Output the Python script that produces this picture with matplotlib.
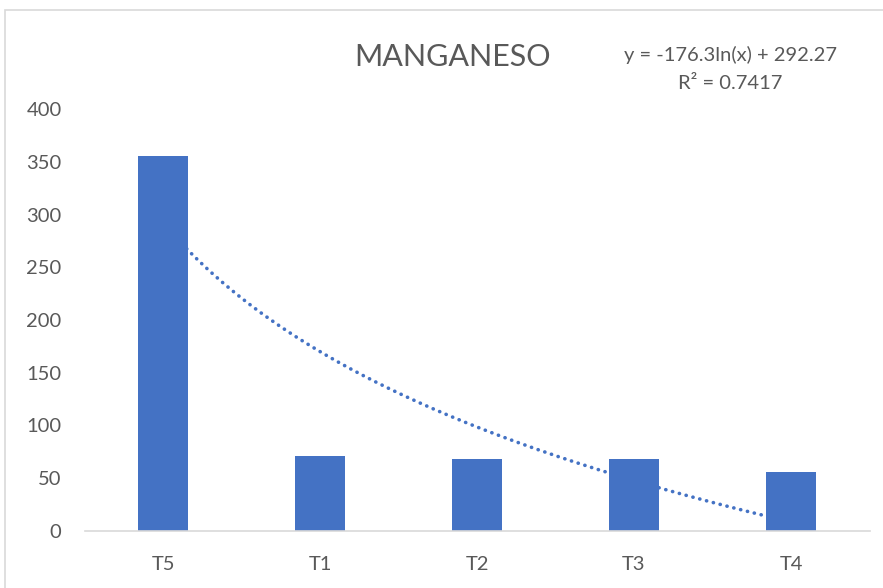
import numpy as np
import matplotlib.pyplot as plt
from matplotlib.patches import Rectangle

# Data
categories = ['T5', 'T1', 'T2', 'T3', 'T4']
values = [355, 71, 68, 68, 56]
yticks = [0, 50, 100, 150, 200, 250, 300, 350, 400]

# Logarithmic trendline coefficients (as shown on the chart)
trend_a = -176.3
trend_b = 292.27
trend_r2 = 0.7417

plt.rcParams['font.family'] = ['Lato', 'DejaVu Sans']

fig = plt.figure(figsize=(8.83, 5.88), dpi=100)
ax = fig.add_axes([84.5 / 883, 57 / 588, 785 / 883, 422 / 588])

x = np.arange(1, len(categories) + 1)

# trendline (behind bars)
xt = np.linspace(1, len(categories), 200)
yt = trend_a * np.log(xt) + trend_b
ax.plot(xt, yt, color='#4472C4', lw=2.6, linestyle=(0, (0.05, 1.9)),
        dash_capstyle='round', zorder=1)

ax.bar(x, values, width=0.32, color='#4472C4', zorder=2)

ax.set_xlim(0.5, len(categories) + 0.5)
ax.set_ylim(0, 400)
ax.set_xticks(x)
ax.set_xticklabels(categories)
ax.set_yticks(yticks)

for s in ['top', 'right', 'left']:
    ax.spines[s].set_visible(False)
ax.spines['bottom'].set_color('#D9D9D9')
ax.spines['bottom'].set_linewidth(1.2)
ax.tick_params(axis='both', length=0, labelsize=14.5, colors='#595959')
ax.tick_params(axis='y', pad=16.5)
ax.tick_params(axis='x', pad=18)

fig.text(452 / 883, 1 - 57 / 588, 'MANGANESO', ha='center', va='center',
         fontsize=22, color='#595959')
fig.text(730 / 883, 1 - 55 / 588,
         f'y = {trend_a}ln(x) + {trend_b}', ha='center', va='center',
         fontsize=14.5, color='#595959')
fig.text(730 / 883, 1 - 84 / 588,
         f'R² = {trend_r2}', ha='center', va='center',
         fontsize=14.5, color='#595959')

# chart area border (cropped on right/bottom)
fig.patches.append(Rectangle((5 / 883, -0.1), 1.2, 1 - 10 / 588 + 0.1,
                             transform=fig.transFigure, fill=False,
                             edgecolor='#D9D9D9', lw=1.2))

fig.savefig('out.png', dpi=100)
